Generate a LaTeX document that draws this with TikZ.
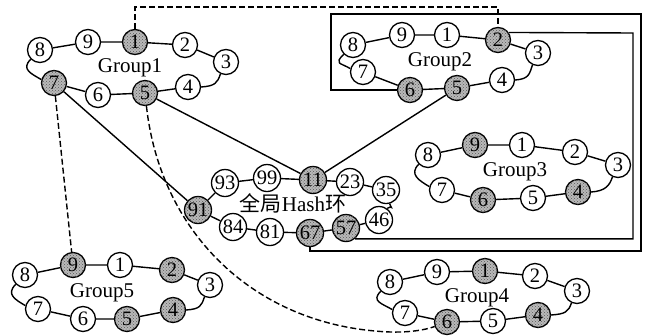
\documentclass[tikz,border=0pt]{standalone}
\usepackage{fontspec}
\setmainfont{Liberation Serif}
\newfontfamily\cjk{Noto Sans CJK SC}
\usetikzlibrary{patterns,calc}
\tikzset{
 nd/.style={circle, draw, line width=1.3pt, fill=white, minimum size=25pt, inner sep=0pt, font=\fontsize{20.5}{20.5}\selectfont},
 hn/.style={nd, minimum size=27pt, inner sep=0.3pt},
 gr/.style={fill=gray!55, postaction={pattern=crosshatch dots, pattern color=black!65}},
 ln/.style={line width=1.4pt},
 dsh/.style={line width=1.4pt, dash pattern=on 6pt off 3pt},
 lbl/.style={font=\fontsize{21}{21}\selectfont, inner sep=0pt}
}
\newcommand\ringlinks[1]{%
 \draw[ln] (#1-8) -- (#1-9) -- (#1-1) -- (#1-2) -- (#1-3);
 \draw[ln] (#1-4) -- (#1-5) -- (#1-6) -- (#1-7);
 \draw[ln] (#1-3.-115) .. controls +(-3,9) and +(14,-1) .. (#1-4.east);
 \draw[ln] (#1-8.-135) .. controls +(-10,10) and +(-10,-6) .. (#1-7.165);
}
\begin{document}
\begin{tikzpicture}[x=1pt,y=-1pt]
\useasboundingbox (0,0) rectangle (645,335);
% Group1
\node[nd] (g1-8) at (40,50) {8};
\node[nd] (g1-9) at (88,42) {9};
\node[nd,gr] (g1-1) at (135,42) {1};
\node[nd] (g1-2) at (185,45) {2};
\node[nd] (g1-3) at (226,62) {3};
\node[nd] (g1-4) at (188,87) {4};
\node[nd,gr] (g1-5) at (145,93) {5};
\node[nd] (g1-6) at (98,95) {6};
\node[nd,gr] (g1-7) at (54,83) {7};
\node[lbl] (g1l) at (130,68) {Group1};
\ringlinks{g1}
% Group2
\node[nd] (g2-8) at (353,45) {8};
\node[nd] (g2-9) at (402,35) {9};
\node[nd] (g2-1) at (447,35) {1};
\node[nd,gr] (g2-2) at (498,40) {2};
\node[nd] (g2-3) at (538,53) {3};
\node[nd] (g2-4) at (502,80) {4};
\node[nd,gr] (g2-5) at (457,88) {5};
\node[nd,gr] (g2-6) at (410,90) {6};
\node[nd] (g2-7) at (363,72) {7};
\node[lbl] (g2l) at (440,62) {Group2};
\ringlinks{g2}
% Group3
\node[nd] (g3-8) at (428,155) {8};
\node[nd,gr] (g3-9) at (475,145) {9};
\node[nd] (g3-1) at (522,145) {1};
\node[nd] (g3-2) at (575,152) {2};
\node[nd] (g3-3) at (618,165) {3};
\node[nd,gr] (g3-4) at (578,192) {4};
\node[nd] (g3-5) at (533,198) {5};
\node[nd,gr] (g3-6) at (483,200) {6};
\node[nd] (g3-7) at (442,190) {7};
\node[lbl] (g3l) at (515,172) {Group3};
\ringlinks{g3}
% Group4
\node[nd] (g4-8) at (390,282) {8};
\node[nd] (g4-9) at (437,272) {9};
\node[nd,gr] (g4-1) at (485,271) {1};
\node[nd] (g4-2) at (535,276) {2};
\node[nd] (g4-3) at (577,291) {3};
\node[nd,gr] (g4-4) at (538,315) {4};
\node[nd] (g4-5) at (493,321) {5};
\node[nd,gr] (g4-6) at (447,322) {6};
\node[nd] (g4-7) at (405,313) {7};
\node[lbl] (g4l) at (477,298) {Group4};
\ringlinks{g4}
% Group5
\node[nd] (g5-8) at (25,275) {8};
\node[nd,gr] (g5-9) at (73,265) {9};
\node[nd] (g5-1) at (120,265) {1};
\node[nd,gr] (g5-2) at (172,270) {2};
\node[nd] (g5-3) at (210,285) {3};
\node[nd,gr] (g5-4) at (173,310) {4};
\node[nd,gr] (g5-5) at (127,319) {5};
\node[nd] (g5-6) at (83,319) {6};
\node[nd] (g5-7) at (38,309) {7};
\node[lbl] (g5l) at (102,293) {Group5};
\ringlinks{g5}
% Hash ring
\node[hn] (h93) at (225,183) {93};
\node[hn] (h99) at (267,178) {99};
\node[hn,gr] (h11) at (313,180) {11};
\node[hn] (h23) at (350,182) {23};
\node[hn] (h35) at (386,190) {35};
\node[hn] (h46) at (379,220) {46};
\node[hn,gr] (h57) at (346,228) {57};
\node[hn,gr] (h67) at (310,233) {67};
\node[hn] (h81) at (270,232) {81};
\node[hn] (h84) at (233,227) {84};
\node[hn,gr] (h91) at (198,210) {91};
\node[lbl] (hl) at (293,203) {{\cjk 全局}Hash{\cjk 环}};
\draw[ln] (h91) -- (h93) -- (h99) -- (h11) -- (h23) -- (h35);
\draw[ln] (h46) -- (h57) -- (h67) -- (h81) -- (h84) -- (h91);
\draw[ln] (h35.-75) .. controls +(3,8) and +(5,-4) .. (h46.55);
% connectors
\coordinate (dtop) at (498,7);
\draw[dsh] (g1-1) |- (dtop) -- (g2-2);
\coordinate (r1) at (331,90);
\coordinate (r2) at (331,14);
\coordinate (r3) at (641,14);
\coordinate (r4) at (641,251);
\coordinate (r5) at (310,251);
\draw[ln] (g2-6) -- (r1) -- (r2) -- (r3) -- (r4) -- (r5) -- (h67);
\coordinate (c57) at (633,33);
\draw[ln] (h57.-50) -| (c57) -- (g2-2.35);
\draw[ln] (g1-7) -- (h91);
\draw[ln] (g1-5) -- (h11);
\draw[ln] (g2-5) -- (h11);
\draw[dsh] (g1-7) -- (g5-9);
\coordinate (dlow) at (375,331);
\draw[dsh] (g1-5) .. controls (160,230) and (250,320) .. (dlow) .. controls (405,334) and (425,330) .. (g4-6);
\end{tikzpicture}
\end{document}
